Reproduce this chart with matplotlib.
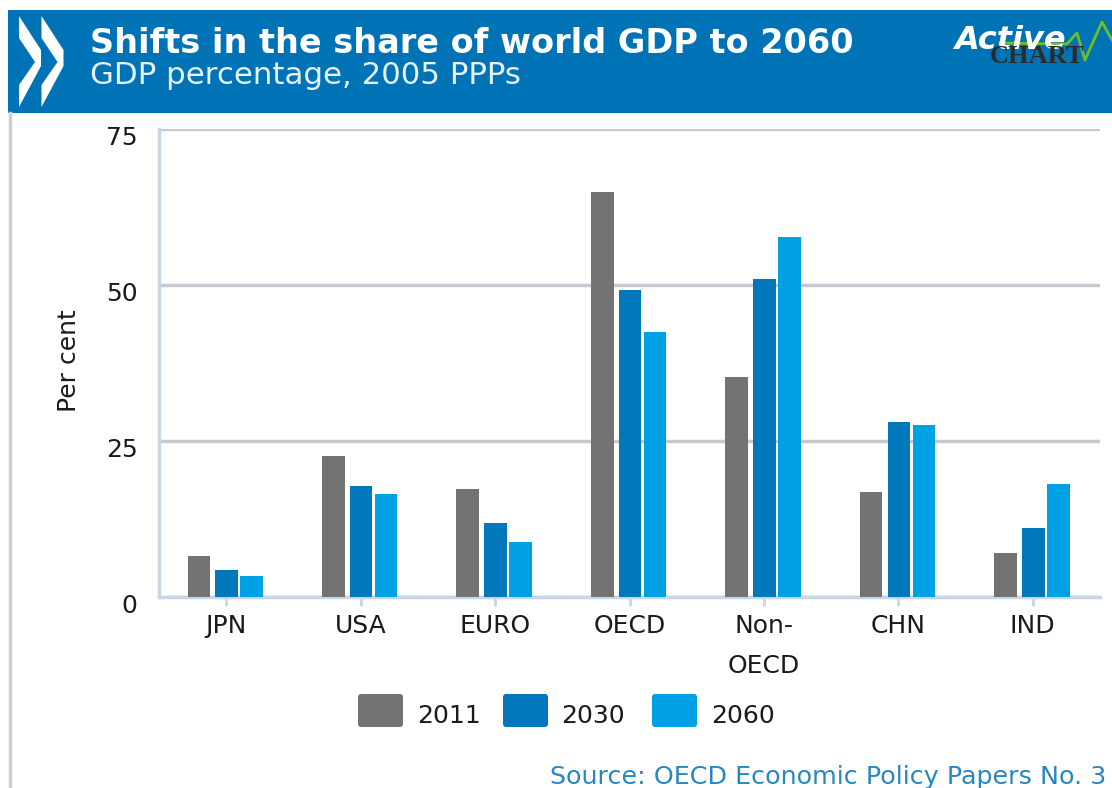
import matplotlib
matplotlib.use('Agg')
import matplotlib.pyplot as plt
from matplotlib.patches import FancyBboxPatch, Polygon, Rectangle
from matplotlib.transforms import ScaledTranslation
import numpy as np

W, H = 1112, 788

categories = ['JPN', 'USA', 'EURO', 'OECD', 'Non-\nOECD', 'CHN', 'IND']
years = ['2011', '2030', '2060']
v2011 = [6.6, 22.6, 17.3, 64.9, 35.3, 16.8, 7.0]
v2030 = [4.3, 17.8, 11.9, 49.2, 51.0, 28.0, 11.0]
v2060 = [3.4, 16.5, 8.8, 42.5, 57.7, 27.6, 18.1]
colors = ['#737373', '#0078bb', '#00a1e4']
yticks = [0, 25, 50, 75]

title = 'Shifts in the share of world GDP to 2060'
subtitle = 'GDP percentage, 2005 PPPs'
source = 'Source: OECD Economic Policy Papers No. 3'

fig = plt.figure(figsize=(W / 100, H / 100), dpi=100)

# overlay in pixel coordinates for the header and the legend
bg = fig.add_axes([0, 0, 1, 1])
bg.set_xlim(0, W)
bg.set_ylim(H, 0)
bg.axis('off')

bg.add_patch(Rectangle((8, 10), W - 8, 103, fc='#0073b6', ec='none'))
bg.plot([10, 10], [113, H], color='#cfcfcf', lw=2.5)
for dx in (0, 22.5):
    bg.add_patch(Polygon([(19 + dx, 16), (41 + dx, 50), (41 + dx, 66), (19 + dx, 107),
                          (19 + dx, 85), (35 + dx, 62), (19 + dx, 38)], fc='white', ec='none'))
bg.text(90, 43, title, color='white', fontsize=24.15, fontweight='bold', va='center', ha='left')
bg.text(90, 75, subtitle, color='#e6f1f8', fontsize=22.2, va='center', ha='left')

# logo
bg.plot([1000, 1067, 1077, 1085, 1102, 1112], [43, 44, 33, 60, 22, 40], color='#6cc024', lw=2)
bg.text(954, 40, 'Active', color='white', fontsize=23, style='italic', fontweight='bold',
        va='center', ha='left')
bg.text(990, 56, 'CHART', color='#2b2b2b', fontsize=19, family='Liberation Serif',
        fontweight='bold', va='center', ha='left')

# legend
leg_x = [358, 503, 652]
txt_x = [417, 561, 711]
for xp, tp, c, lab in zip(leg_x, txt_x, colors, years):
    bg.add_patch(FancyBboxPatch((xp + 3, 697), 39, 27, boxstyle='round,pad=3', fc=c, ec='none'))
    bg.text(tp, 716, lab, fontsize=18, color='#1a1a1a', va='center', ha='left')

bg.text(1106, 777, source, color='#2a86c0', fontsize=18.25, va='center', ha='right')

# chart area
x0, x1, y_top, y_bot = 159, 1100, 129, 597
ax = fig.add_axes([x0 / W, 1 - y_bot / H, (x1 - x0) / W, (y_bot - y_top) / H])
ax.patch.set_alpha(0)
ax.set_xlim(0, 7)
ax.set_ylim(0, 75)

x = np.arange(len(categories)) + 0.5
bar_w = 0.168
offsets = [-0.203, 0.004, 0.19]
for vals, off, c, lab in zip([v2011, v2030, v2060], offsets, colors, years):
    ax.bar(x + off, vals, bar_w, color=c, label=lab, zorder=3)

ax.set_yticks(yticks)
ax.set_xticks(x)
ax.set_xticklabels(categories, fontsize=18, color='#1a1a1a')
for lab in ax.get_xticklabels():
    lab.set_linespacing(1.84)
ax.tick_params(axis='y', labelsize=18, length=0, pad=15.5, labelcolor='#1a1a1a')
ax.tick_params(axis='x', length=6.5, width=2, color='#c9d6e5', pad=5.5)
# the y labels sit a little below their grid lines
shift = ScaledTranslation(0, -5 / 72, fig.dpi_scale_trans)
for lab in ax.get_yticklabels():
    lab.set_transform(lab.get_transform() + shift)
ax.grid(axis='y', color='#c6c9cf', lw=2.5, zorder=1)
ax.set_axisbelow(True)
for s in ('top', 'right'):
    ax.spines[s].set_visible(False)
for s in ('left', 'bottom'):
    ax.spines[s].set_color('#c9d6e5')
    ax.spines[s].set_linewidth(2.5)
ax.set_ylabel('Per cent', fontsize=18, color='#1a1a1a', va='center')
ax.yaxis.set_label_coords(-0.096, 0.506)

fig.savefig('out.png', dpi=100)
